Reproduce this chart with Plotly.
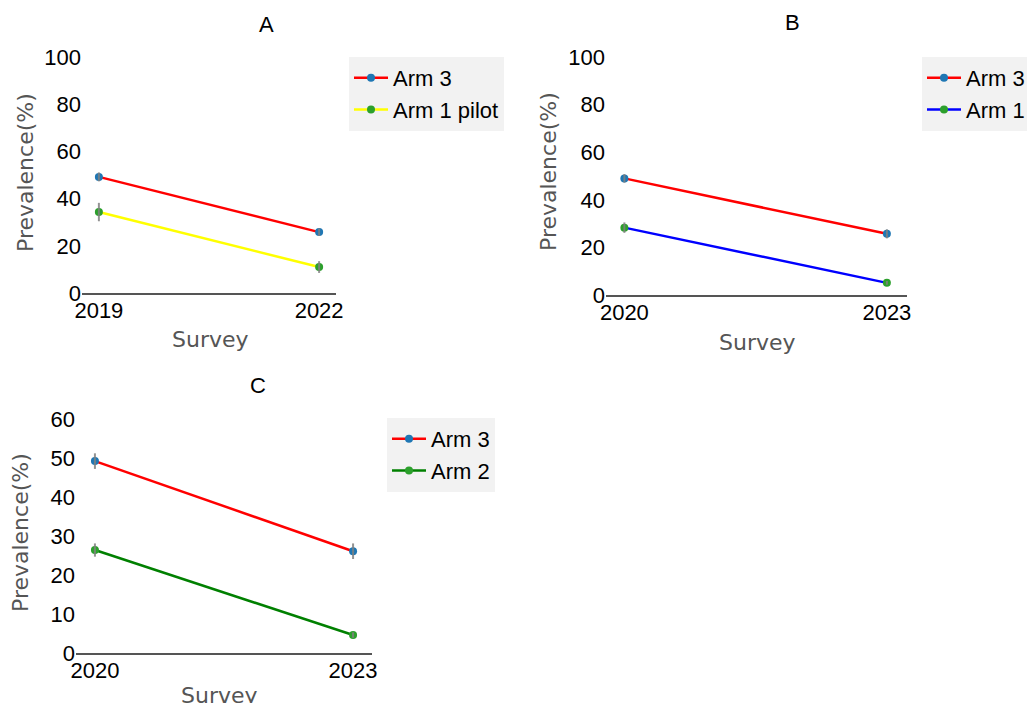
import plotly.graph_objects as go

# Survey years per panel
years_a = [2019, 2022]
years_b = [2020, 2023]
years_c = [2020, 2023]

# Prevalence (%) and error half-widths
arm3_a = [49.2, 25.8]
arm3_a_err = [1.9, 1.6]
arm1p_a = [34.3, 11.0]
arm1p_a_err = [3.9, 2.5]

arm3_b = [49.0, 25.7]
arm3_b_err = [1.8, 1.9]
arm1_b = [28.3, 5.1]
arm1_b_err = [2.2, 0.8]

arm3_c = [49.2, 26.1]
arm3_c_err = [2.0, 2.0]
arm2_c = [26.4, 4.6]
arm2_c_err = [1.7, 0.7]

BLUE = "#1f77b4"
GREEN = "#2ca02c"
ERR = dict(type="data", thickness=2, width=0, color="rgba(128,128,128,0.85)")


def series(x, y, name, line_color, marker_color, xa, ya, legend):
    return go.Scatter(
        x=x, y=y, name=name, mode="lines+markers",
        line=dict(color=line_color, width=2.5),
        marker=dict(color=marker_color, size=8),
        xaxis=xa, yaxis=ya, legend=legend,
    )


def errbars(x, y, err, xa, ya):
    # error bars drawn on top of the markers
    return go.Scatter(
        x=x, y=y, mode="markers", marker=dict(size=0, opacity=0),
        error_y=dict(array=err, **ERR), xaxis=xa, yaxis=ya,
        showlegend=False, hoverinfo="skip",
    )


fig = go.Figure()
fig.add_trace(series(years_a, arm3_a, "Arm 3", "red", BLUE, "x", "y", "legend"))
fig.add_trace(series(years_a, arm1p_a, "Arm 1 pilot", "yellow", GREEN, "x", "y", "legend"))
fig.add_trace(series(years_b, arm3_b, "Arm 3", "red", BLUE, "x2", "y2", "legend2"))
fig.add_trace(series(years_b, arm1_b, "Arm 1", "blue", GREEN, "x2", "y2", "legend2"))
fig.add_trace(series(years_c, arm3_c, "Arm 3", "red", BLUE, "x3", "y3", "legend3"))
fig.add_trace(series(years_c, arm2_c, "Arm 2", "green", GREEN, "x3", "y3", "legend3"))

fig.add_trace(errbars(years_a, arm3_a, arm3_a_err, "x", "y"))
fig.add_trace(errbars(years_a, arm1p_a, arm1p_a_err, "x", "y"))
fig.add_trace(errbars(years_b, arm3_b, arm3_b_err, "x2", "y2"))
fig.add_trace(errbars(years_b, arm1_b, arm1_b_err, "x2", "y2"))
fig.add_trace(errbars(years_c, arm3_c, arm3_c_err, "x3", "y3"))
fig.add_trace(errbars(years_c, arm2_c, arm2_c_err, "x3", "y3"))

W, H = 1027, 703
TICKFONT = dict(family="Liberation Sans, Arial", size=22, color="black")
TITLEFONT = dict(family="DejaVu Sans", size=22, color="#555555")


def xax(domain, rng, ticks, anchor):
    return dict(domain=domain, range=rng, tickvals=ticks, anchor=anchor,
                showgrid=False, zeroline=False, showline=True, linecolor="#555555",
                linewidth=2, ticks="", tickfont=TICKFONT, automargin=False,
                ticklabelstandoff=-3)


def yax(domain, rng, dtick, anchor):
    return dict(domain=domain, range=rng, dtick=dtick, anchor=anchor,
                showgrid=False, zeroline=False, showline=False, ticks="",
                tickfont=TICKFONT, ticklabelstandoff=0, automargin=False)


def px_x(p):
    return p / W


def px_y(p):
    return 1 - p / H


fig.update_layout(
    width=W, height=H, margin=dict(l=0, r=0, t=0, b=0, autoexpand=False),
    plot_bgcolor="white", paper_bgcolor="white",
    xaxis=xax([px_x(82), px_x(336)], [2018.77, 2022.23], years_a, "y"),
    yaxis=yax([px_y(293), px_y(57)], [0, 100], 20, "x"),
    xaxis2=xax([px_x(606), px_x(907)], [2019.79, 2023.23], years_b, "y2"),
    yaxis2=yax([px_y(295), px_y(57)], [0, 100], 20, "x2"),
    xaxis3=xax([px_x(76), px_x(372)], [2019.78, 2023.22], years_c, "y3"),
    yaxis3=yax([px_y(653), px_y(419)], [0, 60], 10, "x3"),
)

legend_style = dict(bgcolor="#f2f2f2", font=dict(family="Liberation Sans, Arial", size=22, color="black"),
                    xanchor="left", yanchor="top", itemwidth=34)
fig.update_layout(
    legend=dict(x=px_x(349), y=px_y(57), **legend_style),
    legend2=dict(x=px_x(922), y=px_y(57), **legend_style),
    legend3=dict(x=px_x(387), y=px_y(418), **legend_style),
)

# Panel titles
for txt, cx, cy in [("A", 266, 25), ("B", 792, 23), ("C", 258, 385)]:
    fig.add_annotation(text=txt, x=px_x(cx), y=px_y(cy), xref="paper", yref="paper",
                       showarrow=False, xanchor="center", yanchor="middle",
                       font=dict(family="Liberation Sans, Arial", size=22, color="black"))

# Axis titles
for cx, cy in [(210, 339), (757, 342), (219, 695)]:
    fig.add_annotation(text="Survey", x=px_x(cx), y=px_y(cy), xref="paper", yref="paper",
                       showarrow=False, xanchor="center", yanchor="middle", font=TITLEFONT)
for cx, cy in [(26, 173), (548, 172), (20, 533)]:
    fig.add_annotation(text="Prevalence(%)", x=px_x(cx), y=px_y(cy), xref="paper", yref="paper",
                       showarrow=False, xanchor="center", yanchor="middle", textangle=-90,
                       font=TITLEFONT)

fig.write_html("out.html")
